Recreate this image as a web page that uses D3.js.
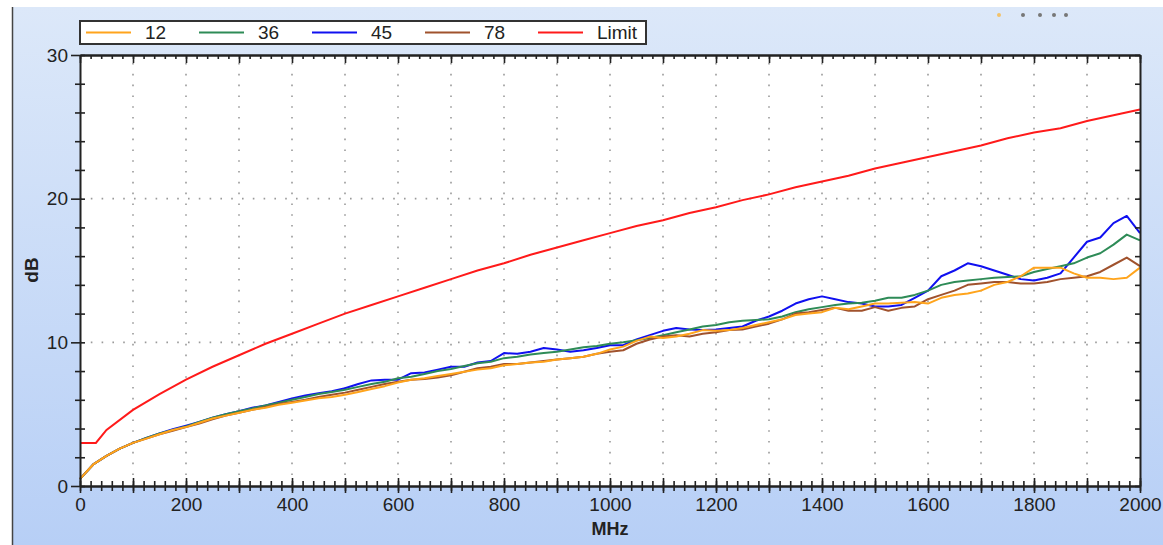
<!DOCTYPE html>
<html><head><meta charset="utf-8">
<script src="https://cdn.jsdelivr.net/npm/d3@7"></script>
<style>
html,body{margin:0;padding:0;background:#fff;}
svg{display:block;font-family:"Liberation Sans",Arial,sans-serif;}
</style></head>
<body><svg id="c" width="1163" height="545"></svg>
<script>
const freq = [0,25,50,75,100,125,150,175,200,225,250,275,300,325,350,375,400,425,450,475,500,525,550,575,600,625,650,675,700,725,750,775,800,825,850,875,900,925,950,975,1000,1025,1050,1075,1100,1125,1150,1175,1200,1225,1250,1275,1300,1325,1350,1375,1400,1425,1450,1475,1500,1525,1550,1575,1600,1625,1650,1675,1700,1725,1750,1775,1800,1825,1850,1875,1900,1925,1950,1975,2000];
const s12 = [0.5,1.5,2.1,2.6,3.0,3.3,3.6,3.9,4.1,4.4,4.7,4.9,5.1,5.3,5.45,5.65,
5.8,5.95,6.1,6.2,6.35,6.55,6.75,6.95,7.2,7.4,7.5,7.65,7.8,7.95,8.1,8.2,8.4,8.5,8.6,8.65,8.8,8.9,9.0,9.2,9.5,9.7,10.1,10.4,10.3,10.4,10.6,10.85,10.8,10.85,11.0,11.2,11.4,11.6,11.9,12.0,12.1,12.4,12.3,12.5,12.7,12.7,12.75,12.8,12.7,13.1,13.3,13.4,13.6,14.0,14.2,14.6,15.2,15.2,15.2,14.8,14.5,14.5,14.4,14.5,15.2];
const s36 = [0.5,1.5,2.1,2.6,3.0,3.35,3.65,3.9,4.15,4.45,4.75,5.0,5.2,5.4,5.6,5.8,
6.0,6.2,6.4,6.55,6.7,6.9,7.1,7.25,7.5,7.6,7.8,8.0,8.15,8.35,8.55,8.65,8.9,9.0,9.15,9.25,9.35,9.5,9.65,9.75,9.9,10.0,10.15,10.3,10.5,10.7,10.9,11.1,11.2,11.4,11.5,11.55,11.6,11.8,12.1,12.3,12.45,12.6,12.7,12.75,12.9,13.1,13.1,13.3,13.6,14.0,14.2,14.3,14.4,14.5,14.55,14.6,14.9,15.1,15.3,15.5,15.9,16.2,16.8,17.5,17.1];
const s45 = [0.5,1.5,2.1,2.6,3.0,3.35,3.65,3.95,4.2,4.45,4.75,5.0,5.2,5.45,5.6,5.85,
6.1,6.3,6.45,6.6,6.8,7.1,7.35,7.4,7.4,7.85,7.9,8.1,8.3,8.3,8.6,8.7,9.25,9.2,9.35,9.6,9.5,9.35,9.45,9.6,9.8,9.8,10.2,10.5,10.8,11.0,10.9,10.85,10.9,11.0,11.1,11.5,11.8,12.2,12.7,13.0,13.2,13.0,12.8,12.7,12.5,12.5,12.6,13.1,13.6,14.6,15.0,15.5,15.3,15.0,14.7,14.4,14.3,14.5,14.8,15.9,17.0,17.3,18.3,18.8,17.6];
const s78 = [0.5,1.5,2.1,2.6,3.0,3.3,3.6,3.85,4.1,4.35,4.65,4.9,5.1,5.3,5.5,5.7,
5.85,6.0,6.2,6.35,6.5,6.7,6.9,7.1,7.25,7.4,7.45,7.55,7.7,7.95,8.2,8.3,8.5,8.5,8.6,8.7,8.8,8.9,9.0,9.2,9.35,9.45,9.9,10.2,10.4,10.5,10.4,10.6,10.7,10.85,10.9,11.1,11.3,11.6,12.0,12.1,12.25,12.4,12.2,12.2,12.45,12.2,12.4,12.5,13.0,13.3,13.6,14.0,14.1,14.2,14.2,14.1,14.1,14.2,14.4,14.5,14.6,14.9,15.4,15.9,15.3];
const limitFreq = [0,30,50,100,150,200,250,300,350,400,450,500,550,600,650,700,750,800,850,900,950,1000,1050,1100,1150,1200,1250,1300,1350,1400,1450,1500,1550,1600,1650,1700,1750,1800,1850,1900,1950,2000];
const limitVals = [3.0,3.0,3.9,5.3,6.4,7.4,8.3,9.1,9.9,10.6,11.3,12.0,12.6,13.2,13.8,14.4,15.0,15.5,16.1,16.6,17.1,17.6,18.1,18.5,19.0,19.4,19.9,20.3,20.8,21.2,21.6,22.1,22.5,22.9,23.3,23.7,24.2,24.6,24.9,25.4,25.8,26.2];
const seriesNames = ["12","36","45","78","Limit"];
const seriesColors = ["#ffa41c","#2e8b57","#1010f0","#a0522d","#ff1a1a"];
const xMajorTicks = [0,100,200,300,400,500,600,700,800,900,1000,1100,1200,1300,1400,1500,1600,1700,1800,1900,2000];
const xLabelTicks = [0,200,400,600,800,1000,1200,1400,1600,1800,2000];
const yTicks = [0,2,4,6,8,10,12,14,16,18,20,22,24,26,28,30];
const yLabelTicks = [0,10,20,30];

const svg = d3.select("#c");
const W = 1163, H = 545;
const L = 80, R = 1140, T = 55, B = 486;

const defs = svg.append("defs");
const g1 = defs.append("linearGradient").attr("id","bg").attr("x1",0).attr("y1",0).attr("x2",0).attr("y2",1);
g1.append("stop").attr("offset","0%").attr("stop-color","#dce8f9");
g1.append("stop").attr("offset","100%").attr("stop-color","#b7cff6");
svg.append("rect").attr("x",0).attr("y",0).attr("width",W).attr("height",H).attr("fill","#fff");
svg.append("rect").attr("x",13).attr("y",7).attr("width",W-13).attr("height",H-7).attr("fill","url(#bg)");
svg.append("line").attr("x1",12.5).attr("x2",12.5).attr("y1",7).attr("y2",H).attr("stroke","#444").attr("stroke-width",1.5);

const deco = [[999,"#f3c26a"],[1023,"#777"],[1040,"#777"],[1054,"#777"],[1066,"#777"]];
svg.selectAll(".deco").data(deco).enter().append("circle")
  .attr("cx",d=>d[0]).attr("cy",15).attr("r",2).attr("fill",d=>d[1]);

const x = d3.scaleLinear().domain([0,2000]).range([L,R]);
const y = d3.scaleLinear().domain([0,30]).range([B,T]);

svg.append("rect").attr("x",L).attr("y",T).attr("width",R-L).attr("height",B-T).attr("fill","#fff");

const grid = svg.append("g");
grid.selectAll(".vg").data(xMajorTicks.filter(d=>d>0&&d<2000)).enter().append("line")
  .attr("x1",d=>x(d)).attr("x2",d=>x(d)).attr("y1",T+8).attr("y2",B)
  .attr("stroke","#9a9a9a").attr("stroke-width",1.6).attr("stroke-dasharray","1.6,9.2");
grid.selectAll(".hg").data([10,20]).enter().append("line")
  .attr("x1",L).attr("x2",R).attr("y1",d=>y(d)).attr("y2",d=>y(d))
  .attr("stroke","#9a9a9a").attr("stroke-width",1.6).attr("stroke-dasharray","1.6,9.2");

const line = d3.line().x(d=>x(d[0])).y(d=>y(d[1]));
const data = [s12,s36,s45,s78];
const order = [2,1,3,0];
order.forEach(i=>{
  svg.append("path").datum(freq.map((f,j)=>[f,data[i][j]]))
    .attr("d",line).attr("fill","none").attr("stroke",seriesColors[i]).attr("stroke-width",2).attr("stroke-linejoin","round");
});
svg.append("path").datum(limitFreq.map((f,j)=>[f,limitVals[j]]))
  .attr("d",line).attr("fill","none").attr("stroke",seriesColors[4]).attr("stroke-width",2);

const axCol = "#222";
function styleAxis(g){ g.selectAll("path.domain").attr("stroke",axCol).attr("stroke-width",2);
  g.selectAll("line").attr("stroke",axCol).attr("stroke-width",1.6);
  g.selectAll("text").attr("fill","#222").style("font-size","19px").style("font-family","'Liberation Sans',Arial,sans-serif");}

const bMin = svg.append("g").attr("transform",`translate(0,${B})`)
  .call(d3.axisBottom(x).tickValues(d3.range(0,2001,20)).tickSize(5).tickSizeOuter(0).tickFormat(""));
bMin.selectAll(".tick line").attr("y1",-5);
styleAxis(bMin);
const bMaj = svg.append("g").attr("transform",`translate(0,${B})`)
  .call(d3.axisBottom(x).tickValues(xMajorTicks).tickSize(7).tickSizeOuter(0).tickFormat(d=>xLabelTicks.includes(d)?d:""));
bMaj.selectAll(".tick line").attr("y1",-8);
bMaj.selectAll(".tick text").attr("y",12);
styleAxis(bMaj);

const tMin = svg.append("g").attr("transform",`translate(0,${T})`)
  .call(d3.axisBottom(x).tickValues(d3.range(0,2001,20)).tickSize(4).tickSizeOuter(0).tickFormat(""));
styleAxis(tMin);
const tMaj = svg.append("g").attr("transform",`translate(0,${T})`)
  .call(d3.axisBottom(x).tickValues(xMajorTicks).tickSize(8).tickSizeOuter(0).tickFormat(""));
styleAxis(tMaj);

const lAx = svg.append("g").attr("transform",`translate(${L},0)`)
  .call(d3.axisLeft(y).tickValues(yTicks).tickSize(5).tickSizeOuter(0).tickFormat(d=>yLabelTicks.includes(d)?d:""));
lAx.selectAll(".tick line").attr("x2",d=>yLabelTicks.includes(d)?-9:-5).attr("x1",5);
lAx.selectAll(".tick text").attr("x",-12);
styleAxis(lAx);

const rAx = svg.append("g").attr("transform",`translate(${R},0)`)
  .call(d3.axisRight(y).tickValues(yTicks).tickSize(-5).tickSizeOuter(0).tickFormat(""));
styleAxis(rAx);

svg.append("text").attr("x",610).attr("y",535).attr("text-anchor","middle")
  .style("font-weight","bold").style("font-size","18px").attr("fill","#222").text("MHz");
svg.append("text").attr("transform","translate(38,270) rotate(-90)").attr("text-anchor","middle")
  .style("font-weight","bold").style("font-size","19px").attr("fill","#222").text("dB");

const lg = svg.append("g");
lg.append("rect").attr("x",80).attr("y",21).attr("width",566).attr("height",23).attr("fill","#fff").attr("stroke","#333").attr("stroke-width",2);
const item = lg.selectAll(".li").data(seriesNames).enter().append("g")
  .attr("transform",(d,i)=>`translate(${86+i*113},0)`);
item.append("line").attr("x1",0).attr("x2",45).attr("y1",32.5).attr("y2",32.5)
  .attr("stroke",(d,i)=>seriesColors[i]).attr("stroke-width",2);
item.append("text").attr("x",59).attr("y",39).style("font-size","19px").attr("fill","#222").text(d=>d);
</script></body></html>
